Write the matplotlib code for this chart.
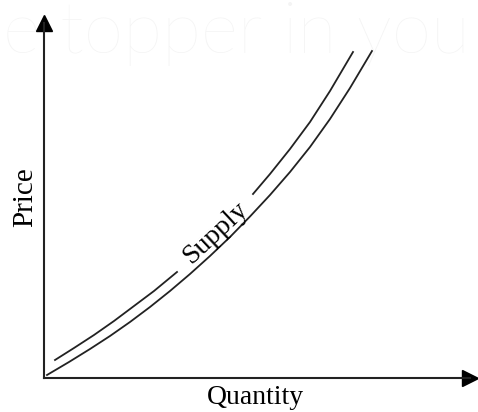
"""Supply curve sketch: price vs quantity with two parallel supply curves."""

import numpy as np
import matplotlib.pyplot as plt

# lower supply curve (quantity, price)
lower_q = [3, 25, 46, 66, 86, 106, 126, 146, 166, 186, 206, 226, 246, 266,
           286, 306, 328]
lower_p = [3, 16, 29, 42, 56, 71, 87, 104, 122, 141, 161.5, 183, 206, 231,
           259, 290, 327]

# upper supply curve, broken where the label sits
upper_q = [11, 30, 50, 70, 90, 110, 133, np.nan, 209, 226, 246, 266, 286,
           309]
upper_p = [18, 30, 43, 57, 72, 87, 106, np.nan, 184, 204, 229, 256, 287,
           326]

curve_label = "Supply"
x_label = "Quantity"
y_label = "Price"
watermark = "e topper in you"

W, H = 478, 412


def main():
    fig = plt.figure(figsize=(W / 100, H / 100), dpi=100)
    fig.patch.set_facecolor("white")

    # faint watermark behind everything
    fig.text(3 / W, 1 - 53 / H, watermark, fontsize=51.5, color="#f4f4f4",
             family="Lato", fontweight="light", va="baseline", ha="left",
             zorder=0)

    ax = fig.add_axes([44 / W, 34 / H, 426 / W, 355 / H])
    ax.set_xlim(0, 426)
    ax.set_ylim(0, 355)
    ax.patch.set_alpha(0)

    for side in ("top", "right"):
        ax.spines[side].set_visible(False)
    for side in ("left", "bottom"):
        ax.spines[side].set_linewidth(1.5)
        ax.spines[side].set_color("#222222")
    ax.set_xticks([])
    ax.set_yticks([])

    # arrow heads on the axes
    ax.plot(1, 0, ">", color="black", ms=11.5, transform=ax.transAxes,
            clip_on=False)
    ax.plot(0, 1, "^", color="black", ms=11.5, transform=ax.transAxes,
            clip_on=False)

    ax.plot(lower_q, lower_p, color="#222222", lw=1.3)
    ax.plot(upper_q, upper_p, color="#222222", lw=1.3)

    ax.text(171, 145, curve_label, rotation=43, rotation_mode="anchor",
            ha="center", va="center", family="Liberation Serif", fontsize=20)

    fig.text(255 / W, 1 - 397 / H, x_label, ha="center", va="center",
             family="Liberation Serif", fontsize=20)
    fig.text(25 / W, 1 - 197 / H, y_label, ha="center", va="center",
             rotation=90, family="Liberation Serif", fontsize=21)

    fig.savefig("out.png", dpi=100)


if __name__ == "__main__":
    main()
